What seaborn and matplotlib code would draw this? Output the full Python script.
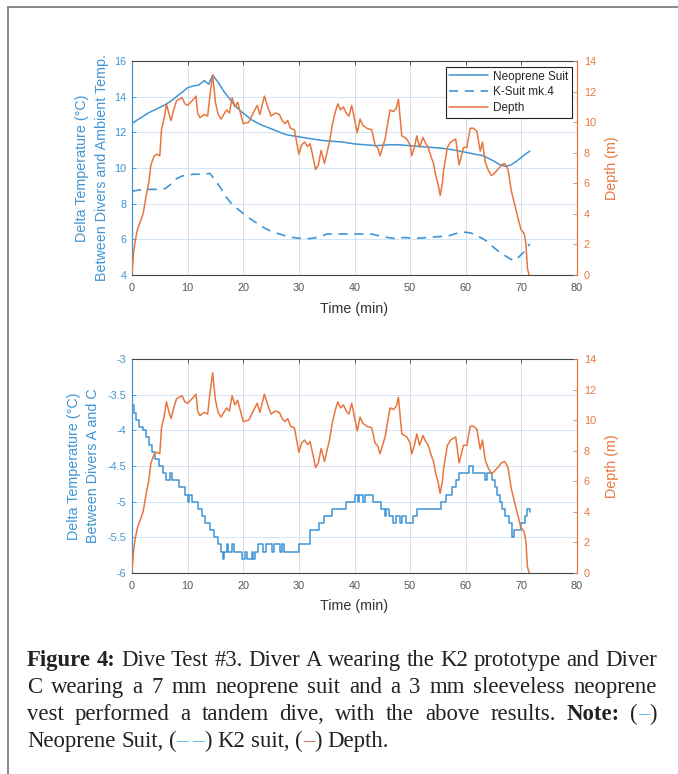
import numpy as np
import pandas as pd
import matplotlib
matplotlib.use("Agg")
import matplotlib.pyplot as plt
import seaborn as sns
from matplotlib.lines import Line2D
from matplotlib.ticker import FixedLocator, FixedFormatter

# ---------------- data ----------------
neo_t = [0, 1, 2, 3, 4, 5, 6, 7, 8, 9, 10, 11, 12, 13, 13.8, 14.5,
         15.5, 16.5, 17.5, 18.5, 19.5, 20.5, 21.5, 23, 25, 27, 28,
         30, 32, 34, 36, 38, 40, 42, 44, 46, 48, 50, 52, 54, 56, 58, 60, 62,
         63, 64, 65, 66, 67, 68, 69, 70, 71.5]
neo_v = [12.5, 12.7, 12.9, 13.1, 13.25, 13.4, 13.55, 13.75, 14.0, 14.25, 14.5, 14.6, 14.65,
         14.9, 14.7, 15.2,
         14.8, 14.3, 13.9, 13.5, 13.2, 12.95, 12.7, 12.45, 12.2, 11.95, 11.85,
         11.75, 11.65, 11.55, 11.5, 11.45, 11.35, 11.3, 11.25, 11.3, 11.3, 11.25, 11.2,
         11.15, 11.1, 11.0, 10.88, 10.75,
         10.7, 10.55, 10.4, 10.2, 10.1, 10.15, 10.35, 10.6, 10.95]

ksuit_t = [0, 1, 2, 3, 4, 5, 6, 7, 8, 9,
           10, 11, 12, 13, 14, 15, 16, 17, 18, 19,
           20, 21, 22, 23, 24, 25, 26, 27, 28, 29,
           30, 32, 34, 35, 37, 40, 43, 45, 47, 49,
           51, 53, 55, 57, 58.5, 60, 61, 62, 63, 64,
           65, 66, 67, 68, 68.8, 69.5, 70.5, 71.5]
ksuit_v = [8.7, 8.75, 8.8, 8.8, 8.8, 8.8, 8.85, 9.1, 9.4, 9.55,
           9.6, 9.65, 9.65, 9.65, 9.7, 9.3, 8.85, 8.35, 7.95, 7.7,
           7.45, 7.2, 7.0, 6.8, 6.6, 6.45, 6.35, 6.25, 6.15, 6.1,
           6.06, 6.04, 6.15, 6.3, 6.3, 6.3, 6.3, 6.15, 6.05, 6.1,
           6.05, 6.1, 6.15, 6.2, 6.35, 6.4, 6.35, 6.2, 6.05, 5.85,
           5.55, 5.3, 5.1, 4.9, 4.8, 5.0, 5.3, 5.75]

depth_t = [0, 0.3, 0.6, 1.0, 1.5, 2.0, 2.6, 3.0, 3.4, 4.0,
           4.5, 5.0, 5.3, 5.8, 6.2, 6.6, 7.0, 7.5, 8.0, 9.0,
           9.5, 10.0, 10.8, 11.5, 11.8, 12.2, 13.0, 13.6, 14.0, 14.5,
           15.0, 15.5, 16.0, 17.0, 17.5, 18.0, 18.5, 19.0, 20.0, 21.0,
           21.8, 22.5, 23.0, 23.8, 24.5, 25.0, 25.8, 26.5, 27.0, 27.5,
           28.0, 28.5, 29.2, 30.0, 30.5, 31.0, 31.6, 32.0, 32.5, 33.0,
           33.5, 34.0, 34.6, 35.5, 36.0, 36.5, 37.0, 37.5, 38.0, 38.5,
           39.0, 39.5, 40.0, 40.5, 41.0, 41.5, 42.2, 43.1, 43.7, 44.2,
           44.6, 45.0, 45.5, 46.0, 46.4, 47.0, 47.5, 47.9, 48.5, 49.0,
           49.4, 50.0, 50.3, 50.8, 51.2, 51.7, 52.3, 52.8, 53.2, 53.8,
           54.2, 54.6, 55.0, 55.4, 55.8, 56.0, 56.7, 57.3, 58.2, 58.8,
           59.6, 60.2, 60.8, 61.4, 62.0, 62.6, 63.0, 63.5, 64.0, 64.6,
           65.0, 65.5, 66.0, 66.4, 67.0, 67.6, 68.2, 69.0, 69.9, 70.5,
           70.8, 71.1, 71.4]
depth_m = [0.2, 1.5, 2.3, 3.0, 3.5, 4.0, 5.3, 6.0, 7.2, 7.8,
           7.9, 7.8, 9.5, 10.3, 11.2, 10.6, 10.1, 10.8, 11.4, 11.6,
           11.2, 11.1, 11.4, 11.7, 10.6, 10.3, 10.5, 10.4, 11.7, 13.1,
           11.3, 10.5, 10.2, 10.8, 10.6, 11.6, 11.0, 11.3, 9.9, 10.0,
           10.6, 11.1, 10.5, 11.7, 10.9, 10.4, 10.6, 10.5, 10.1, 9.9,
           10.1, 9.6, 9.5, 7.9, 8.5, 8.7, 8.4, 8.6, 7.8, 6.9,
           7.2, 8.15, 7.3, 8.7, 9.8, 10.6, 11.2, 10.8, 11.0, 10.6,
           10.4, 11.1, 10.2, 9.3, 10.2, 9.8, 9.6, 9.5, 8.5, 8.3,
           7.8, 8.3, 8.9, 10.0, 10.8, 10.7, 10.9, 11.5, 9.1, 9.0,
           8.9, 8.5, 7.8, 8.4, 9.1, 8.35, 9.0, 8.6, 8.4, 7.7,
           7.3, 6.5, 6.0, 5.2, 6.0, 6.8, 8.35, 8.7, 8.9, 7.2,
           8.35, 8.35, 9.6, 9.6, 9.4, 8.1, 8.7, 7.4, 6.9, 6.5,
           6.6, 6.8, 7.0, 7.2, 7.3, 6.9, 5.5, 4.3, 3.0, 2.7,
           2.1, 0.4, 0.0]

diff_t = [0, 0.4, 0.8, 1.3, 2.0, 2.5, 3.0, 3.6, 4.2, 4.8,
          5.5, 6.1, 6.8, 7.2, 8.0, 8.5, 9.5, 10.0, 10.3, 10.7,
          11.3, 11.8, 12.5, 13.2, 14.0, 14.8, 15.4, 16.0, 16.3, 16.6,
          17.0, 17.3, 18.0, 18.3, 19.0, 19.8, 20.4, 20.7, 21.5, 21.8,
          22.2, 22.6, 23.6, 24.0, 25.2, 25.6, 26.6, 27.0, 27.3, 30.0,
          32.0, 33.7, 34.5, 36.0, 38.5, 40.0, 40.6, 40.8, 41.6, 41.9,
          43.4, 44.8, 45.4, 45.7, 46.2, 47.0, 47.4, 48.2, 48.6, 49.2,
          50.0, 50.5, 51.2, 52.5, 55.5, 56.5, 57.6, 58.2, 58.7, 60.6,
          61.3, 63.5, 63.9, 64.8, 65.3, 65.7, 66.2, 66.6, 67.1, 67.8,
          68.4, 68.7, 69.4, 70.0, 70.6, 71.0, 71.5]
diff_v = [-3.65, -3.75, -3.85, -3.95, -4.0, -4.1, -4.2, -4.3, -4.4, -4.5,
          -4.6, -4.7, -4.6, -4.7, -4.7, -4.8, -4.9, -5.0, -4.9, -5.0,
          -5.0, -5.1, -5.2, -5.3, -5.4, -5.5, -5.6, -5.7, -5.8, -5.7,
          -5.6, -5.7, -5.6, -5.7, -5.7, -5.8, -5.7, -5.8, -5.7, -5.8,
          -5.7, -5.6, -5.7, -5.6, -5.7, -5.6, -5.7, -5.6, -5.7, -5.6,
          -5.4, -5.3, -5.2, -5.1, -5.0, -4.9, -5.0, -4.9, -5.0, -4.9,
          -5.0, -5.1, -5.2, -5.1, -5.2, -5.3, -5.2, -5.3, -5.2, -5.3,
          -5.3, -5.2, -5.1, -5.1, -5.0, -4.9, -4.8, -4.7, -4.6, -4.5,
          -4.6, -4.7, -4.6, -4.7, -4.8, -4.9, -5.0, -5.1, -5.2, -5.3,
          -5.5, -5.4, -5.4, -5.3, -5.2, -5.1, -5.15]

x_ticks = [0, 10, 20, 30, 40, 50, 60, 70, 80]
top_left_ticks = [4, 6, 8, 10, 12, 14, 16]
depth_ticks = [0, 2, 4, 6, 8, 10, 12, 14]
bot_left_ticks = [-6, -5.5, -5, -4.5, -4, -3.5, -3]
bot_left_labels = ["-6", "-5.5", "-5", "-4.5", "-4", "-3.5", "-3"]
legend_labels = ["Neoprene Suit", "K-Suit mk.4", "Depth"]

# ---------------- style ----------------
sns.set_style("white")
plt.rcParams['font.family'] = ['Liberation Sans', 'DejaVu Sans']

W, H, DPI = 678, 774, 100
fig = plt.figure(figsize=(W / DPI, H / DPI), dpi=DPI)
fig.patch.set_facecolor("white")

BLUE = "#3f95d5"
ORANGE = "#e8763f"
AXGRAY = "#444444"
TXT = "#222222"
TICKFS = 7.8
LABFS = 10.3


def axrect(l, t, r, b):
    return [l / W, 1 - b / H, (r - l) / W, (b - t) / H]


def style_axes(ax, axr, yticks, ylabels, ylim):
    ax.set_xlim(0, 80)
    ax.set_ylim(*ylim)
    axr.set_ylim(0, 14)
    ax.xaxis.set_major_locator(FixedLocator(x_ticks))
    ax.set_xticklabels([str(v) for v in x_ticks])
    ax.yaxis.set_major_locator(FixedLocator(yticks))
    ax.yaxis.set_major_formatter(FixedFormatter(ylabels))
    axr.yaxis.set_major_locator(FixedLocator(depth_ticks))
    axr.set_yticklabels([str(v) for v in depth_ticks])
    ax.set_xlabel("")
    ax.set_ylabel("")
    axr.set_ylabel("")
    axr.set_xlabel("")
    ax.xaxis.grid(True, color="#dcdcdc", lw=0.7)
    ax.yaxis.grid(True, color="#d3e6f5", lw=0.7)
    ax.set_axisbelow(True)
    for s in ["top", "bottom"]:
        ax.spines[s].set_color(AXGRAY)
        ax.spines[s].set_linewidth(0.8)
    ax.spines["left"].set_color(BLUE)
    ax.spines["left"].set_linewidth(0.9)
    ax.spines["right"].set_visible(False)
    for s in ["top", "bottom", "left"]:
        axr.spines[s].set_visible(False)
    axr.spines["right"].set_color(ORANGE)
    axr.spines["right"].set_linewidth(0.9)
    ax.tick_params(axis="x", colors=AXGRAY, direction="in", length=3, width=0.6,
                   top=True, labelsize=TICKFS, pad=6)
    ax.tick_params(axis="x", labelcolor="#555555")
    ax.tick_params(axis="y", colors=BLUE, direction="in", length=3, width=0.6,
                   labelsize=TICKFS, pad=4)
    axr.tick_params(axis="y", colors=ORANGE, direction="in", length=3, width=0.6,
                    labelsize=TICKFS, pad=5)


# ---------------- top chart ----------------
ax1 = fig.add_axes(axrect(132, 61, 577, 275))
ax1r = ax1.twinx()

df_neo = pd.DataFrame({"t": neo_t, "v": neo_v})
df_ks = pd.DataFrame({"t": ksuit_t, "v": ksuit_v})
df_dep = pd.DataFrame({"t": depth_t, "d": depth_m})
df_diff = pd.DataFrame({"t": diff_t, "v": diff_v})

sns.lineplot(data=df_neo, x="t", y="v", ax=ax1, color=BLUE, lw=1.1,
             estimator=None, errorbar=None, legend=False)
sns.lineplot(data=df_ks, x="t", y="v", ax=ax1, color=BLUE, lw=1.2,
             linestyle=(0, (5.5, 4)), estimator=None, errorbar=None, legend=False)
sns.lineplot(data=df_dep, x="t", y="d", ax=ax1r, color=ORANGE, lw=1.1,
             estimator=None, errorbar=None, legend=False)
style_axes(ax1, ax1r, top_left_ticks, [str(v) for v in top_left_ticks], (4, 16))

handles = list(ax1.get_lines()[:2]) + [ax1r.get_lines()[0]]
leg = ax1r.legend(handles, legend_labels, loc="upper right",
                  bbox_to_anchor=(0.989, 0.972), fontsize=8.5, frameon=True,
                  fancybox=False, framealpha=1, edgecolor="#222222",
                  borderpad=0.3, handlelength=3.3, handletextpad=0.45,
                  labelspacing=0.32, borderaxespad=0)
leg.get_frame().set_linewidth(0.8)

# ---------------- bottom chart ----------------
ax2 = fig.add_axes(axrect(132, 359, 577, 573))
ax2r = ax2.twinx()
sns.lineplot(data=df_diff, x="t", y="v", ax=ax2, color=BLUE, lw=1.1,
             drawstyle="steps-post", estimator=None, errorbar=None, legend=False)
sns.lineplot(data=df_dep, x="t", y="d", ax=ax2r, color=ORANGE, lw=1.1,
             estimator=None, errorbar=None, legend=False)
style_axes(ax2, ax2r, bot_left_ticks, bot_left_labels, (-6, -3))

# ---------------- axis labels ----------------
def ftxt(x, y, s, **kw):
    fig.text(x / W, 1 - y / H, s, **kw)

ftxt(82, 168, "Delta Temperature (\u00b0C)", rotation=90, ha="center", va="center",
     color=BLUE, fontsize=LABFS)
ftxt(102, 168, "Between Divers and Ambient Temp.", rotation=90, ha="center",
     va="center", color=BLUE, fontsize=LABFS)
ftxt(74, 466, "Delta Temperature (\u00b0C)", rotation=90, ha="center", va="center",
     color=BLUE, fontsize=LABFS)
ftxt(93, 466, "Between Divers A and C", rotation=90, ha="center", va="center",
     color=BLUE, fontsize=LABFS)
ftxt(612, 168, "Depth (m)", rotation=90, ha="center", va="center",
     color=ORANGE, fontsize=LABFS)
ftxt(612, 466, "Depth (m)", rotation=90, ha="center", va="center",
     color=ORANGE, fontsize=LABFS)
ftxt(354, 309, "Time (min)", ha="center", va="center", color="#333333", fontsize=LABFS)
ftxt(354, 606, "Time (min)", ha="center", va="center", color="#333333", fontsize=LABFS)

# ---------------- frame ----------------
FRAME = "#808080"
fig.add_artist(Line2D([8 / W, 1], [1 - 7 / H, 1 - 7 / H], transform=fig.transFigure,
                      color=FRAME, lw=1.3))
fig.add_artist(Line2D([8 / W, 8 / W], [1 - 7 / H, 0], transform=fig.transFigure,
                      color=FRAME, lw=1.3))

# ---------------- caption ----------------
CAPBLUE = "#5cb8e6"
CAPRED = "#c07058"
N, B = "normal", "bold"
cap_lines = [
    [[("Figure", B, TXT)], [("4:", B, TXT)], "Dive", "Test", "#3.", "Diver", "A",
     "wearing", "the", "K2", "prototype", "and", "Diver"],
    ["C", "wearing", "a", "7", "mm", "neoprene", "suit", "and", "a", "3", "mm",
     "sleeveless", "neoprene"],
    ["vest", "performed", "a", "tandem", "dive,", "with", "the", "above", "results.",
     [("Note:", B, TXT)], [("(", N, TXT), ("\u2013", N, CAPBLUE), (")", N, TXT)]],
    ["Neoprene", "Suit,", [("(", N, TXT), ("\u2013", N, CAPBLUE), ("\u2009", N, TXT),
                           ("\u2013", N, CAPBLUE), (")", N, TXT)],
     "K2", "suit,", [("(", N, TXT), ("\u2013", N, CAPRED), (")", N, TXT)], "Depth."],
]
justify = [True, True, True, False]
baselines = [666, 693, 720, 747]
CAP_L, CAP_R = 27, 657
SERIF = ["Liberation Serif", "DejaVu Serif"]

renderer = fig.canvas.get_renderer()


def norm_word(w):
    return [(w, N, TXT)] if isinstance(w, str) else w


def pwidth(s, fs, weight):
    t = fig.text(0, 0, s, fontsize=fs, fontweight=weight, family=SERIF)
    w = t.get_window_extent(renderer=renderer).width
    t.remove()
    return w


def wwidth(word, fs):
    return sum(pwidth(s, fs, wt) for s, wt, c in norm_word(word))


def space_w(fs):
    return pwidth("a a", fs, N) - pwidth("aa", fs, N)


def line_natural(line, fs):
    return sum(wwidth(w, fs) for w in line) + space_w(fs) * (len(line) - 1)


fs = 10 * 379 / line_natural(cap_lines[3], 10)
for ln in cap_lines[:3]:
    nat = line_natural(ln, fs)
    if nat > (CAP_R - CAP_L):
        fs *= (CAP_R - CAP_L) / nat

for ln, just, base in zip(cap_lines, justify, baselines):
    widths = [wwidth(w, fs) for w in ln]
    if just:
        gap = (CAP_R - CAP_L - sum(widths)) / (len(ln) - 1)
    else:
        gap = space_w(fs)
    x = CAP_L
    for w, ww in zip(ln, widths):
        px = x
        for s, wt, c in norm_word(w):
            fig.text(px / W, 1 - base / H, s, fontsize=fs, fontweight=wt, color=c,
                     family=SERIF, ha="left", va="baseline")
            px += pwidth(s, fs, wt)
        x += ww + gap

fig.savefig("out.png", dpi=DPI, facecolor="white")
